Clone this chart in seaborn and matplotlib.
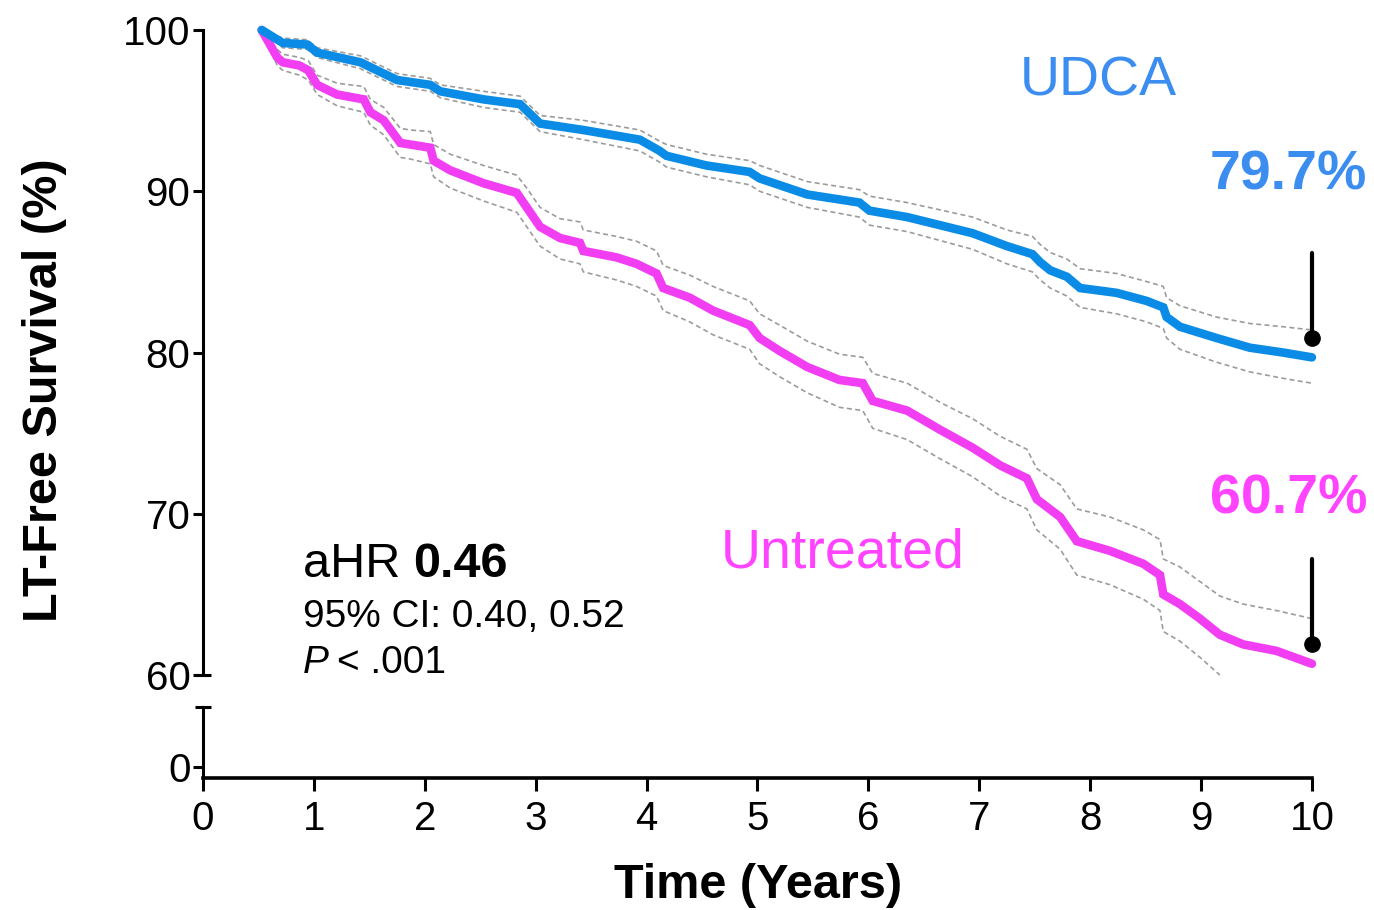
import numpy as np
import pandas as pd
import matplotlib
matplotlib.use('Agg')
import matplotlib.pyplot as plt
import seaborn as sns

# UDCA-treated curve (years, LT-free survival %) with 95% CI bounds
udca_t = [0.53, 0.72, 0.94, 1.03, 1.42, 1.75, 2.05, 2.14, 2.53, 2.86, 3.04, 3.43, 3.94,
          4.12, 4.18, 4.54, 4.93, 5.02, 5.45, 5.92, 6.01, 6.35, 6.94, 7.25, 7.48, 7.55,
          7.64, 7.79, 7.91, 8.24, 8.51, 8.66, 8.69, 8.81, 9.14, 9.44, 9.74, 10.0]
udca_s = [100, 99.2, 99.1, 98.6, 98.0, 96.9, 96.6, 96.2, 95.7, 95.4, 94.2, 93.8, 93.2,
          92.5, 92.2, 91.6, 91.2, 90.8, 89.8, 89.3, 88.8, 88.4, 87.4, 86.6, 86.1, 85.6,
          85.1, 84.7, 84.0, 83.7, 83.2, 82.8, 82.2, 81.6, 80.9, 80.3, 80.0, 79.7]
udca_hi = [100, 99.5, 99.4, 98.9, 98.4, 97.3, 97.0, 96.6, 96.2, 95.9, 94.7, 94.4, 93.8,
           93.1, 92.9, 92.3, 91.9, 91.6, 90.6, 90.1, 89.7, 89.3, 88.4, 87.6, 87.2, 86.7,
           86.2, 85.8, 85.2, 84.9, 84.4, 84.1, 83.4, 82.9, 82.2, 81.8, 81.6, 81.4]
udca_lo = [100, 98.9, 98.8, 98.3, 97.6, 96.5, 96.2, 95.8, 95.2, 94.9, 93.7, 93.2, 92.5,
           91.8, 91.5, 90.9, 90.4, 90.0, 89.0, 88.4, 87.9, 87.5, 86.4, 85.5, 85.0, 84.5,
           84.0, 83.5, 82.8, 82.4, 81.9, 81.5, 80.9, 80.2, 79.4, 78.8, 78.4, 78.1]

# Untreated curve
untr_t = [0.53, 0.67, 0.72, 0.87, 0.95, 1.03, 1.21, 1.45, 1.51, 1.63, 1.78, 1.87, 2.05,
          2.08, 2.23, 2.53, 2.83, 2.92, 3.04, 3.22, 3.4, 3.43, 3.73, 3.91, 4.09, 4.15,
          4.39, 4.6, 4.93, 5.02, 5.2, 5.45, 5.74, 5.95, 6.04, 6.35, 6.65, 6.94, 7.19,
          7.43, 7.52, 7.73, 7.88, 8.18, 8.48, 8.63, 8.66, 8.81, 8.99, 9.17, 9.38, 9.68, 10.0]
untr_s = [100, 98.3, 98.0, 97.8, 97.5, 96.6, 96.0, 95.7, 94.9, 94.4, 93.0, 92.9, 92.7,
          91.9, 91.3, 90.5, 89.9, 89.0, 87.8, 87.1, 86.8, 86.3, 85.9, 85.5, 84.9, 84.0,
          83.4, 82.6, 81.7, 80.9, 80.1, 79.1, 78.3, 78.1, 77.0, 76.4, 75.2, 74.1, 73.0,
          72.2, 70.9, 69.8, 68.3, 67.7, 66.9, 66.2, 65.0, 64.4, 63.5, 62.5, 61.9, 61.5, 60.7]
untr_hi = [100, 98.8, 98.5, 98.3, 98.1, 97.2, 96.7, 96.5, 95.7, 95.2, 93.9, 93.8, 93.7,
           92.9, 92.3, 91.6, 91.0, 90.2, 89.0, 88.3, 88.1, 87.6, 87.2, 86.9, 86.3, 85.4,
           84.8, 84.1, 83.2, 82.4, 81.7, 80.7, 79.9, 79.7, 78.7, 78.1, 76.9, 75.9, 74.8,
           74.0, 72.8, 71.8, 70.3, 69.8, 69.0, 68.4, 67.2, 66.7, 65.8, 64.9, 64.4, 64.0, 63.5]
untr_lo = [100, 97.8, 97.5, 97.2, 96.9, 96.0, 95.3, 94.9, 94.1, 93.5, 92.1, 92.0, 91.7,
           90.9, 90.2, 89.4, 88.7, 87.8, 86.6, 85.8, 85.5, 85.0, 84.5, 84.1, 83.5, 82.6,
           81.9, 81.1, 80.2, 79.3, 78.5, 77.5, 76.6, 76.4, 75.3, 74.6, 73.4, 72.3, 71.1,
           70.3, 69.0, 67.8, 66.2, 65.6, 64.7, 64.0, 62.7, 62.1, 61.1, 60.0,
           np.nan, np.nan, np.nan]

x_ticks = list(range(0, 11))
y_ticks_top = [60, 70, 80, 90, 100]

BLUE, BLUE_TXT = '#0A8CE6', '#3B8DF0'
PINK, PINK_TXT = '#F23EF2', '#FF44FF'
CI_GREY = '#9C9C9C'

sns.set_style('ticks')
plt.rcParams['font.family'] = ['Liberation Sans', 'DejaVu Sans']
plt.rcParams.update({'text.color': 'black', 'axes.edgecolor': 'black',
                     'axes.labelcolor': 'black', 'xtick.color': 'black',
                     'ytick.color': 'black'})

fig = plt.figure(figsize=(13.74, 9.10), dpi=100)
ax = fig.add_axes([0.1477, 0.2582, 0.8071, 0.7088])
axb = fig.add_axes([0.1477, 0.1451, 0.8071, 0.0780], sharex=ax)

udca = pd.DataFrame({'t': udca_t, 's': udca_s, 'hi': udca_hi, 'lo': udca_lo})
untr = pd.DataFrame({'t': untr_t, 's': untr_s, 'hi': untr_hi, 'lo': untr_lo})

# confidence bands first, then the curves (untreated below UDCA)
for df in (untr, udca):
    for col in ('hi', 'lo'):
        sns.lineplot(data=df, x='t', y=col, ax=ax, color=CI_GREY, lw=1.2,
                     linestyle=(0, (3, 2)), estimator=None, sort=False, clip_on=False)
sns.lineplot(data=untr, x='t', y='s', ax=ax, color=PINK, lw=6.2,
             estimator=None, sort=False, clip_on=False, solid_joinstyle='miter')
sns.lineplot(data=udca, x='t', y='s', ax=ax, color=BLUE, lw=6.2,
             estimator=None, sort=False, clip_on=False, solid_joinstyle='miter')

# top panel (60-100)
ax.set_xlim(0, 10)
ax.set_ylim(60, 100)
ax.set_yticks(y_ticks_top)
ax.set_xlabel('')
ax.set_ylabel('')
for s in ('top', 'right', 'bottom'):
    ax.spines[s].set_visible(False)
ax.spines['left'].set_linewidth(2.2)
ax.tick_params(axis='x', bottom=False, labelbottom=False)
ax.tick_params(axis='y', labelsize=29, length=7, width=2.2, pad=2)
ax.plot(0, 0, marker='_', ms=11, mew=2.2, color='black',
        transform=ax.transAxes, clip_on=False)

# bottom panel (0) with x axis
axb.set_ylim(-1, 5.45)
axb.set_yticks([0])
axb.set_xticks(x_ticks)
for s in ('top', 'right'):
    axb.spines[s].set_visible(False)
axb.spines['left'].set_linewidth(2.2)
axb.spines['bottom'].set_linewidth(2.6)
axb.tick_params(axis='both', labelsize=29, width=2.2)
axb.tick_params(axis='y', length=7, pad=2)
axb.tick_params(axis='x', length=9, pad=7)
axb.plot(0, 1, marker='_', ms=11, mew=2.2, color='black',
         transform=axb.transAxes, clip_on=False)
axb.set_facecolor('none')

# group labels
ax.text(8.07, 96.8, 'UDCA', color=BLUE_TXT, fontsize=40, ha='center', va='center')
ax.text(5.77, 67.55, 'Untreated', color=PINK_TXT, fontsize=40, ha='center', va='center')

# final survival callouts: dot just above the curve end, stem, bold value
for t_end, s_end, label_gap, col in ((udca_t[-1], udca_s[-1], 4.75, BLUE_TXT),
                                     (untr_t[-1], untr_s[-1], 3.7, PINK_TXT)):
    dot = s_end + 1.2
    top = dot + 5.3
    ax.plot([t_end, t_end], [dot, top], color='black', lw=3, clip_on=False)
    ax.plot(t_end, dot, 'o', color='black', ms=11, clip_on=False)
    ax.text(t_end - 0.21, top + label_gap, f'{s_end}%', color=col, fontsize=40,
            fontweight='bold', ha='center', va='center')

# hazard ratio box
t1 = ax.text(0.9, 66.1, 'aHR ', fontsize=35, ha='left', va='baseline')
ax.annotate('0.46', xy=(1, 0), xycoords=t1, fontsize=35, fontweight='bold',
            ha='left', va='bottom')
ax.text(0.9, 63.0, '95% CI: 0.40, 0.52', fontsize=28, ha='left', va='baseline')
t3 = ax.text(0.9, 60.15, 'P', fontsize=28, style='italic', ha='left', va='baseline')
ax.annotate('< .001', xy=(1, 0), xycoords=t3, xytext=(6, 0), textcoords='offset points',
            fontsize=28, ha='left', va='bottom')

fig.text(45 / 1374, 1 - 390 / 910, 'LT-Free Survival (%)', rotation=90, fontsize=35,
         fontweight='bold', ha='center', va='center')
fig.text(758 / 1374, 1 - 885 / 910, 'Time (Years)', fontsize=35, fontweight='bold',
         ha='center', va='center')

fig.savefig('out.png', dpi=100, facecolor='white')
